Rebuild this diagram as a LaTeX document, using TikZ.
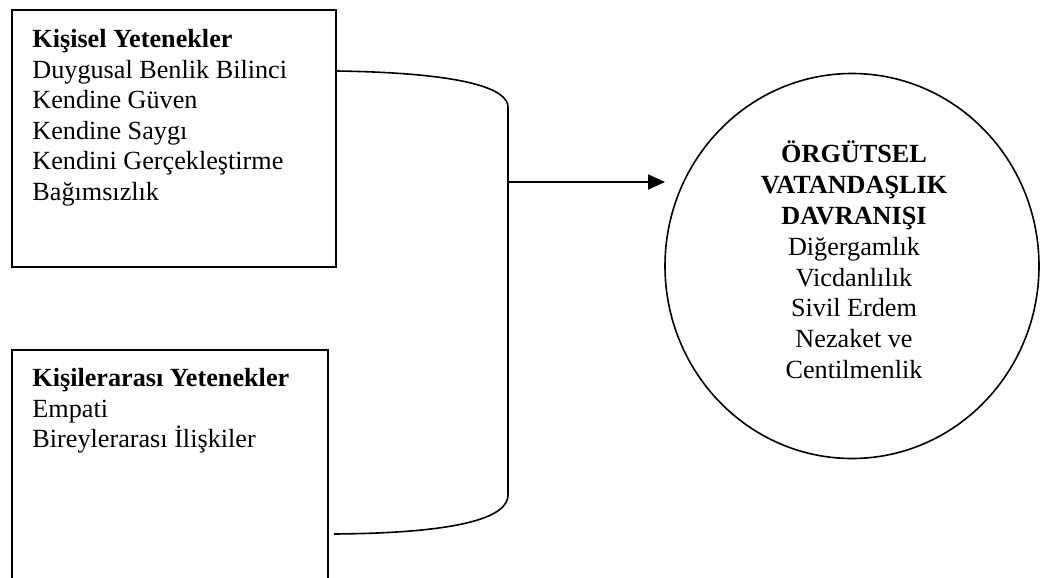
\documentclass[tikz,border=0pt]{standalone}
\usepackage{fontspec}
\setmainfont{Liberation Serif}
\usetikzlibrary{shapes.geometric, arrows.meta}
\tikzstyle{box} = [rectangle, draw=black, line width=1pt, inner sep=0pt, anchor=north west]
\tikzstyle{boxtext} = [align=left, inner sep=0pt, anchor=north west, font=\fontsize{13.1}{15.3}\selectfont]
\tikzstyle{oval} = [ellipse, draw=black, line width=0.8pt, minimum width=187pt, minimum height=192.5pt, inner sep=0pt]
\tikzstyle{ovaltext} = [align=center, inner sep=0pt, font=\fontsize{13.1}{15.4}\selectfont]
\tikzstyle{link} = [line width=0.8pt]
\tikzstyle{arrow1} = [line width=1pt, -{Triangle[length=8.5pt, width=7.5pt]}]

\begin{document}
\begin{tikzpicture}[x=0.5pt, y=-0.5pt]

    \clip (0, 0) rectangle (1040, 578);

    \node (kisisel) [box, minimum width=162pt, minimum height=128.5pt] at (11, 9) {};
    \node (kisiseltxt) [boxtext] at (32, 29) {\textbf{Kişisel Yetenekler}\\
        Duygusal Benlik Bilinci\\
        Kendine Güven\\
        Kendine Saygı\\
        Kendini Gerçekleştirme\\
        Bağımsızlık};

    \node (kisilerarasi) [box, minimum width=158pt, minimum height=130pt] at (11, 349) {};
    \node (kisilerarasitxt) [boxtext] at (32, 368) {\textbf{Kişilerarası Yetenekler}\\
        Empati\\
        Bireylerarası İlişkiler};

    \node (ovd) [oval] at (852, 266) {};
    \node (ovdtxt) [ovaltext] at (854, 260) {\textbf{ÖRGÜTSEL}\\
        \textbf{VATANDAŞLIK}\\
        \textbf{DAVRANIŞI}\\
        Diğergamlık\\
        Vicdanlılık\\
        Sivil Erdem\\
        Nezaket ve\\
        Centilmenlik};

    \coordinate (top) at ([shift={(0, 62)}]kisisel.north east);
    \coordinate (join) at (508, 182);
    \coordinate (bottom) at (334, 534);
    \coordinate (tip) at (665, 182);

    \draw [link] (top) .. controls (470, 73) and (508, 90) .. (508, 107)
        -- (508, 495) .. controls (508, 515) and (470, 533) .. (bottom);

    \draw [arrow1] (join) -- (tip);

\end{tikzpicture}
\end{document}
